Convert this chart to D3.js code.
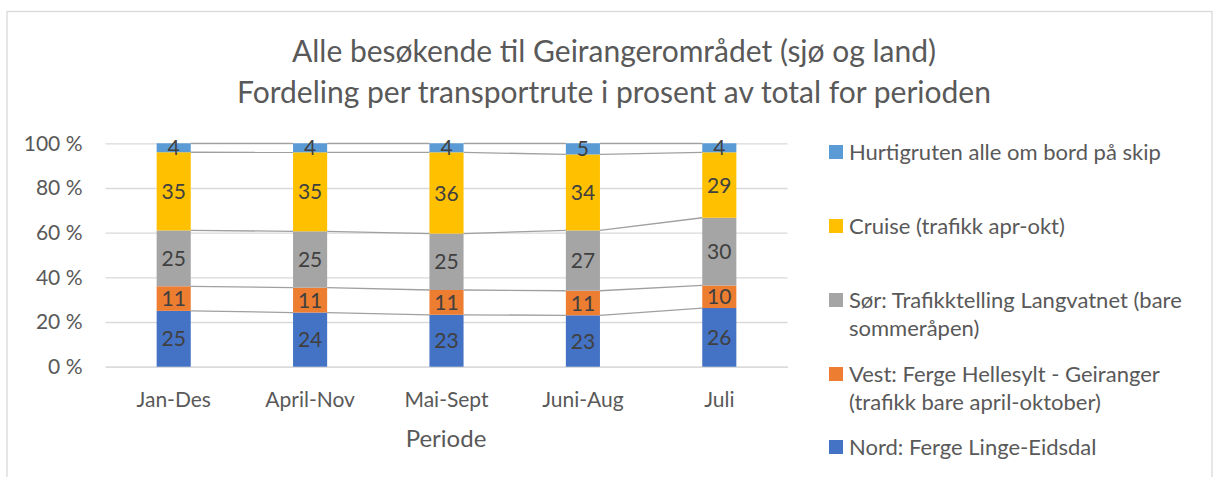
<!DOCTYPE html>
<html>
<head>
<meta charset="utf-8">
<script src="https://cdn.jsdelivr.net/npm/d3@7"></script>
<style>
  body { margin: 0; background: #fff; }
  svg text { font-family: Lato, "Open Sans", sans-serif; }
</style>
</head>
<body>
<div id="chart"></div>
<script>
// Perioder og serier (prosent av total)
const periods = ["Jan-Des", "April-Nov", "Mai-Sept", "Juni-Aug", "Juli"];
const seriesKeys = ["nord", "vest", "sor", "cruise", "hurtigruten"];
const seriesNames = [
    "Nord: Ferge Linge-Eidsdal",
    "Vest: Ferge Hellesylt - Geiranger\n(trafikk bare april-oktober)",
    "Sør: Trafikktelling Langvatnet (bare\nsommeråpen)",
    "Cruise (trafikk apr-okt)",
    "Hurtigruten alle om bord på skip"
];
const seriesColors = ["#4472C4", "#ED7D31", "#A5A5A5", "#FFC000", "#5B9BD5"];
const nord = [25, 24, 23, 23, 26];
const vest = [11, 11, 11, 11, 10];
const sor = [25, 25, 25, 27, 30];
const cruise = [35, 35, 36, 34, 29];
const hurtigruten = [4, 4, 4, 5, 4];
const yTicks = [0, 0.2, 0.4, 0.6, 0.8, 1];

const width = 1213;
const height = 477;

// Bygg tabell for d3.stack
const rows = periods.map((p, i) => ({
    periode: p,
    nord: nord[i],
    vest: vest[i],
    sor: sor[i],
    cruise: cruise[i],
    hurtigruten: hurtigruten[i]
}));

const stacked = d3.stack().keys(seriesKeys).offset(d3.stackOffsetExpand)(rows);

const svg = d3.select("#chart")
    .append("svg")
    .attr("width", width)
    .attr("height", height);

// Ramme rundt diagrammet
svg.append("rect")
    .attr("x", 7)
    .attr("y", 11.5)
    .attr("width", 1205)
    .attr("height", 500)
    .attr("fill", "none")
    .attr("stroke", "#d9d9d9")
    .attr("stroke-width", 1.3);

const x = d3.scaleBand()
    .domain(periods)
    .range([105.5, 787.5])
    .paddingInner(0.75)
    .paddingOuter(0.375);

const y = d3.scaleLinear()
    .domain([0, 1])
    .range([366.7, 143.3]);

// Tittel
const title = svg.append("text")
    .attr("text-anchor", "middle")
    .attr("fill", "#595959")
    .attr("font-size", "30px");
title.append("tspan").attr("x", 614).attr("y", 61.5).text("Alle besøkende til Geirangerområdet (sjø og land)");
title.append("tspan").attr("x", 614).attr("y", 103).text("Fordeling per transportrute i prosent av total for perioden");

// Y-akse med rutenett
const yAxis = svg.append("g")
    .attr("transform", "translate(105.5,0)")
    .call(d3.axisLeft(y)
        .tickValues(yTicks)
        .tickSize(-682)
        .tickPadding(23)
        .tickFormat(d => Math.round(d * 100) + " %"));
yAxis.select(".domain").remove();
yAxis.selectAll(".tick line").attr("stroke", "#d9d9d9").attr("stroke-width", 1.3);
yAxis.selectAll(".tick text")
    .attr("fill", "#595959")
    .attr("font-size", "21px");

// X-akse
const xAxis = svg.append("g")
    .attr("transform", "translate(0,366.7)")
    .call(d3.axisBottom(x).tickSize(0).tickPadding(25));
xAxis.select(".domain").attr("stroke", "#d9d9d9").attr("stroke-width", 1.3);
xAxis.selectAll(".tick text")
    .attr("fill", "#595959")
    .attr("font-size", "21px");

svg.append("text")
    .attr("x", 446)
    .attr("y", 446.5)
    .attr("text-anchor", "middle")
    .attr("fill", "#595959")
    .attr("font-size", "24px")
    .text("Periode");

// Serielinjer mellom søylene
const lineGroup = svg.append("g");
stacked.forEach(layer => {
    for (let i = 0; i < layer.length - 1; i++) {
        lineGroup.append("line")
            .attr("x1", x(periods[i]) + x.bandwidth())
            .attr("x2", x(periods[i + 1]))
            .attr("y1", y(layer[i][1]))
            .attr("y2", y(layer[i + 1][1]))
            .attr("stroke", "#a0a0a0")
            .attr("stroke-width", 1.3);
    }
});

// Søyler
const layers = svg.append("g")
    .selectAll("g")
    .data(stacked)
    .join("g")
    .attr("fill", (d, i) => seriesColors[i]);

layers.selectAll("rect")
    .data(d => d)
    .join("rect")
    .attr("x", d => x(d.data.periode))
    .attr("y", d => y(d[1]))
    .attr("width", x.bandwidth())
    .attr("height", d => y(d[0]) - y(d[1]));

// Dataetiketter
layers.each(function(layer) {
    d3.select(this).selectAll("text")
        .data(layer)
        .join("text")
        .attr("x", d => x(d.data.periode) + x.bandwidth() / 2)
        .attr("y", d => (y(d[0]) + y(d[1])) / 2)
        .attr("dy", "0.36em")
        .attr("text-anchor", "middle")
        .attr("fill", "#404040")
        .attr("font-size", "21px")
        .text(d => d.data[layer.key]);
});

// Forklaring (omvendt rekkefølge)
const legendY = [152, 226, 300, 374, 447];
const legend = svg.append("g");
seriesKeys.slice().reverse().forEach((key, j) => {
    const idx = seriesKeys.indexOf(key);
    const g = legend.append("g").attr("transform", `translate(829,${legendY[j]})`);
    g.append("rect")
        .attr("x", 0)
        .attr("y", -7)
        .attr("width", 14)
        .attr("height", 14)
        .attr("fill", seriesColors[idx]);
    const t = g.append("text")
        .attr("fill", "#595959")
        .attr("font-size", "22px");
    seriesNames[idx].split("\n").forEach((line, k) => {
        t.append("tspan")
            .attr("x", 20)
            .attr("y", k * 28)
            .attr("dy", "0.35em")
            .text(line);
    });
});
</script>
</body>
</html>
